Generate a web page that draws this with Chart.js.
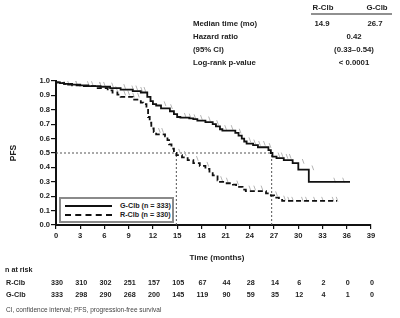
<!DOCTYPE html>
<html>
<head>
<meta charset="utf-8">
<script src="https://cdn.jsdelivr.net/npm/chart.js@4.4.1/dist/chart.umd.min.js"></script>
<style>
  html, body { margin: 0; padding: 0; background: #fff; }
  #wrap { position: relative; width: 400px; height: 318px; }
  #legendBox {
    position: absolute; left: 59px; top: 197px; width: 111px; height: 22px;
    border: 2px solid #8a8a8a; background: #fff;
    font: bold 7.2px "Liberation Sans", Arial, sans-serif; color: #222;
  }
  .lgRow { position: absolute; left: 4px; height: 9px; width: 106px; }
  .lgLine { position: absolute; left: 0; top: 4px; width: 47px; border-top: 2px solid #111; }
  .lgLine.dash { border-top: 2px dashed #111; }
  .lgText { position: absolute; left: 55px; top: 0; line-height: 9px; white-space: nowrap; }
</style>
</head>
<body>
<div id="wrap">
  <canvas id="kmChart" width="400" height="318"></canvas>
  <div id="legendBox">
    <div class="lgRow" style="top:2px"><div class="lgLine"></div><div class="lgText">G-Clb (n = 333)</div></div>
    <div class="lgRow" style="top:11px"><div class="lgLine dash"></div><div class="lgText">R-Clb (n = 330)</div></div>
  </div>
</div>
<script>
document.addEventListener("DOMContentLoaded", function() {

    // G-Clb (solid) step curve
    var gclbMonths = [0, 0.5, 1.0, 1.5, 3.0, 4.0, 5.5, 6.7, 8.0, 9.5, 10.5, 11.3, 11.7, 12.0, 12.4, 13.0, 14.1, 14.6, 15.0, 15.4,
        16.5, 17.0, 17.5, 18.5, 19.4, 19.8, 20.3, 20.6, 22.2, 22.6, 23.0, 23.3, 23.6, 24.4, 25.0, 26.3, 26.6, 26.8, 27.3, 28.2,
        29.3, 30.0, 31.3, 33.1, 36.4];
    var gclbPFS = [1.0, 0.99, 0.985, 0.98, 0.975, 0.97, 0.965, 0.96, 0.95, 0.94, 0.93, 0.92, 0.89, 0.86, 0.84, 0.83, 0.81, 0.79, 0.77, 0.75,
        0.745, 0.74, 0.735, 0.725, 0.715, 0.70, 0.685, 0.665, 0.655, 0.64, 0.62, 0.60, 0.58, 0.565, 0.555, 0.54, 0.52, 0.50, 0.475, 0.465,
        0.45, 0.43, 0.385, 0.30, 0.30];

    // R-Clb (dashed) step curve
    var rclbMonths = [0, 0.5, 1.0, 2.0, 3.3, 5.0, 6.4, 7.0, 7.6, 8.0, 9.5, 10.5, 10.8, 11.2, 11.4, 11.6, 11.8, 12.1, 12.4, 13.5,
        13.8, 14.0, 14.3, 14.6, 14.9, 15.6, 16.3, 17.0, 17.8, 18.5, 19.0, 19.4, 20.0, 20.3, 20.7, 21.9, 22.3, 23.1, 23.5, 26.0,
        26.6, 27.0, 27.6, 28.0, 28.7, 34.8];
    var rclbPFS = [1.0, 0.99, 0.985, 0.98, 0.97, 0.965, 0.95, 0.935, 0.92, 0.905, 0.89, 0.87, 0.85, 0.84, 0.80, 0.75, 0.71, 0.67, 0.645, 0.63,
        0.615, 0.59, 0.56, 0.53, 0.50, 0.485, 0.47, 0.45, 0.43, 0.41, 0.39, 0.36, 0.345, 0.31, 0.30, 0.29, 0.28, 0.265, 0.245, 0.235,
        0.22, 0.205, 0.19, 0.175, 0.167, 0.167];

    // censoring times (tick marks)
    var gclbCensor = [1.5, 2.5, 4.5, 5.5, 7.0, 8.5, 9.5, 10.0, 10.6, 11.0, 13.5, 14.3, 16.0, 16.6, 17.2, 18.0, 19.0, 20.0, 21.0, 21.8,
        22.8, 24.0, 24.6, 25.2, 25.8, 26.5, 27.6, 28.0, 28.6, 29.0, 30.6, 31.8, 34.5, 35.6];
    var rclbCensor = [1.0, 2.5, 4.0, 5.5, 6.0, 7.5, 8.5, 9.0, 9.6, 10.2, 12.8, 13.2, 15.3, 16.0, 17.5, 18.8, 20.5, 21.2, 22.5, 24.0,
        24.6, 25.5, 27.3, 28.3, 28.8, 29.3, 30.5, 31.0, 32.0, 33.0, 34.3, 34.8];

    var medians = [14.9, 26.7];   // R-Clb, G-Clb

    var riskTimes = [0, 3, 6, 9, 12, 15, 18, 21, 24, 27, 30, 33, 36, 39];
    var riskRclb = [330, 310, 302, 251, 157, 105, 67, 44, 28, 14, 6, 2, 0, 0];
    var riskGclb = [333, 298, 290, 268, 200, 145, 119, 90, 59, 35, 12, 4, 1, 0];

    var summaryLabels = ['Median time (mo)', 'Hazard ratio', '(95% CI)', 'Log-rank p-value'];

    function toPoints(xs, ys) {
        return xs.map(function(x, i) { return { x: x, y: ys[i] }; });
    }
    function censorPoints(times, xs, ys) {
        return times.map(function(t) {
            var v = ys[0];
            for (var i = 0; i < xs.length; i++) { if (xs[i] <= t) v = ys[i]; }
            return { x: t, y: v + 0.012 };
        });
    }

    var FONT = '"Liberation Sans", Arial, sans-serif';
    var refStyle = { borderColor: '#555', borderWidth: 1, borderDash: [2, 2], pointRadius: 0, fill: false };

    var textPlugin = {
        id: 'kmText',
        afterDraw: function(chart) {
            var ctx = chart.ctx;
            var xs = chart.scales.x;
            ctx.save();
            ctx.fillStyle = '#222';
            ctx.textBaseline = 'middle';

            // y title
            ctx.save();
            ctx.translate(14, 153);
            ctx.rotate(-Math.PI / 2);
            ctx.textAlign = 'center';
            ctx.font = 'bold 8.5px ' + FONT;
            ctx.fillText('PFS', 0, 0);
            ctx.restore();

            // x title
            ctx.textAlign = 'center';
            ctx.font = 'bold 8px ' + FONT;
            ctx.fillText('Time (months)', 217, 258);

            // risk table
            ctx.textAlign = 'left';
            ctx.font = 'bold 7.2px ' + FONT;
            ctx.fillText('n at risk', 5, 270);
            ctx.fillText('R-Clb', 6, 283);
            ctx.fillText('G-Clb', 6, 295);
            ctx.textAlign = 'center';
            riskTimes.forEach(function(t, i) {
                var px = xs.getPixelForValue(t) + 1;
                ctx.fillText(String(riskRclb[i]), px, 283);
                ctx.fillText(String(riskGclb[i]), px, 295);
            });

            ctx.textAlign = 'left';
            ctx.font = '6.5px ' + FONT;
            ctx.fillStyle = '#444';
            ctx.fillText('CI, confidence interval; PFS, progression-free survival', 6, 310);

            // summary table
            ctx.fillStyle = '#222';
            ctx.font = 'bold 7.8px ' + FONT;
            var rowsY = [23.5, 36.5, 50, 63];
            summaryLabels.forEach(function(l, i) { ctx.fillText(l, 193, rowsY[i]); });
            ctx.textAlign = 'center';
            ctx.fillText('R-Clb', 323, 8);
            ctx.fillText('G-Clb', 377, 8);
            ctx.fillText(medians[0].toFixed(1), 322, rowsY[0]);
            ctx.fillText(medians[1].toFixed(1), 375, rowsY[0]);
            ctx.fillText('0.42', 354, rowsY[1]);
            ctx.fillText('(0.33\u20130.54)', 354, rowsY[2]);
            ctx.fillText('< 0.0001', 354, rowsY[3]);
            ctx.strokeStyle = '#222';
            ctx.lineWidth = 1.2;
            ctx.beginPath();
            ctx.moveTo(311, 14);
            ctx.lineTo(392, 14);
            ctx.stroke();
            ctx.restore();
        }
    };

    new Chart(document.getElementById('kmChart'), {
        type: 'line',
        data: {
            datasets: [
                {
                    label: 'G-Clb (n = 333)',
                    data: toPoints(gclbMonths, gclbPFS),
                    stepped: 'after',
                    borderColor: '#111',
                    borderWidth: 1.8,
                    pointRadius: 0,
                    fill: false
                },
                {
                    label: 'R-Clb (n = 330)',
                    data: toPoints(rclbMonths, rclbPFS),
                    stepped: 'after',
                    borderColor: '#111',
                    borderWidth: 1.8,
                    borderDash: [5, 3],
                    pointRadius: 0,
                    fill: false
                },
                {
                    label: 'G-Clb censored',
                    data: censorPoints(gclbCensor, gclbMonths, gclbPFS),
                    showLine: false,
                    pointStyle: 'line',
                    rotation: 70,
                    pointRadius: 2.5,
                    borderColor: '#b5b5b5',
                    pointBorderWidth: 1
                },
                {
                    label: 'R-Clb censored',
                    data: censorPoints(rclbCensor, rclbMonths, rclbPFS),
                    showLine: false,
                    pointStyle: 'line',
                    rotation: 70,
                    pointRadius: 2.5,
                    borderColor: '#b5b5b5',
                    pointBorderWidth: 1
                },
                Object.assign({ label: 'median h', data: [{ x: 0, y: 0.5 }, { x: medians[1], y: 0.5 }] }, refStyle),
                Object.assign({ label: 'median R', data: [{ x: medians[0], y: 0 }, { x: medians[0], y: 0.5 }] }, refStyle),
                Object.assign({ label: 'median G', data: [{ x: medians[1], y: 0 }, { x: medians[1], y: 0.5 }] }, refStyle)
            ]
        },
        options: {
            responsive: false,
            animation: false,
            devicePixelRatio: 1,
            layout: { padding: { left: 0, right: 29, top: 81, bottom: 73 } },
            plugins: { legend: { display: false }, tooltip: { enabled: false } },
            scales: {
                x: {
                    type: 'linear',
                    min: 0,
                    max: 39,
                    afterFit: function(scale) { scale.height = 20; },
                    ticks: { stepSize: 3, color: '#222', font: { family: FONT, size: 7.6, weight: 'bold' }, padding: 2, maxRotation: 0 },
                    grid: { display: true, drawOnChartArea: false, drawTicks: true, tickLength: 4, color: '#111', lineWidth: 1.2 },
                    border: { display: true, color: '#111', width: 2 }
                },
                y: {
                    min: 0,
                    max: 1,
                    afterFit: function(scale) { scale.width = 56; },
                    ticks: {
                        stepSize: 0.1,
                        color: '#222',
                        font: { family: FONT, size: 7.6, weight: 'bold' },
                        padding: 1,
                        callback: function(v) { return v.toFixed(1); }
                    },
                    grid: { display: true, drawOnChartArea: false, drawTicks: true, tickLength: 5, color: '#111', lineWidth: 1.2 },
                    border: { display: true, color: '#111', width: 2 }
                }
            }
        },
        plugins: [textPlugin]
    });
});
</script>
</body>
</html>
